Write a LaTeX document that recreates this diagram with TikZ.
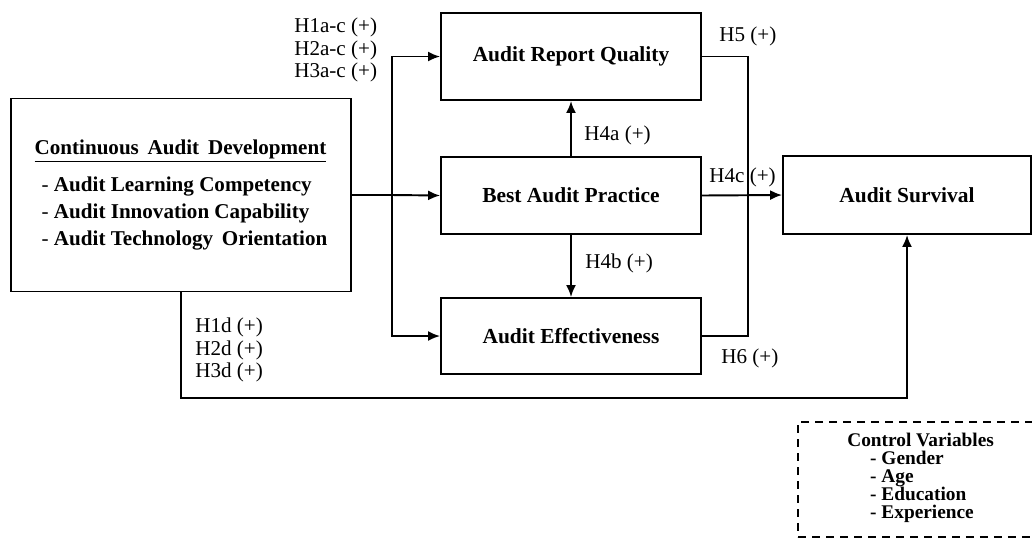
\documentclass[tikz,border=0pt]{standalone}
\usepackage{fontspec}
\setmainfont{Liberation Serif}
\usetikzlibrary{arrows.meta}

\tikzset{
  box/.style={draw, line width=1.1pt, rectangle, minimum width=5.2cm, font=\fontsize{12.2}{13}\selectfont\bfseries},
  arr/.style={-{Latex[length=2.4mm,width=2mm]}, line width=1.1pt},
  hyp/.style={anchor=west, align=left, font=\fontsize{12}{12.6}\selectfont, inner sep=0pt}
}

\begin{document}
\begin{tikzpicture}[x=0.02cm, y=-0.02cm]
        \useasboundingbox (0,0) rectangle (1032,539);

        % Nodes
        \node[box, minimum width=6.8cm, minimum height=3.86cm, font=\fontsize{12}{14}\selectfont, align=left] (CAD) at (181,195)
          {\textbf{\underline{Continuous\ \,Audit\ \,Development}}\\[7pt]
           \hspace*{4pt}- \textbf{Audit Learning Competency}\\[1.6pt]
           \hspace*{4pt}- \textbf{Audit Innovation Capability}\\[1.6pt]
           \hspace*{4pt}- \textbf{Audit Technology\ \,Orientation}};
        \node[box, minimum height=1.74cm] (ARQ) at (571,56.5) {Audit Report Quality};
        \node[box, minimum height=1.54cm] (BAP) at (571,195.5) {Best Audit Practice};
        \node[box, minimum height=1.52cm] (AE) at (571,336) {Audit Effectiveness};
        \node[box, minimum width=4.96cm, minimum height=1.56cm] (AS) at (907,195) {Audit Survival};
        \node[draw, line width=1.1pt, dash pattern=on 0.16cm off 0.12cm, minimum width=5.4cm, minimum height=2.3cm] (CVbox) at (933,479.5) {};
        \node[anchor=north west, align=left, inner sep=0pt, font=\fontsize{11}{10.2}\selectfont\bfseries] (CV) at (847,433)
          {Control Variables\\
           \hspace*{13pt}- Gender\\
           \hspace*{13pt}- Age\\
           \hspace*{13pt}- Education\\
           \hspace*{13pt}- Experience};

        \coordinate (split) at (392,195);
        \coordinate (rj) at (748,195);
        \coordinate (bot) at (500,398);

        % Edges
        \draw[line width=1.1pt] (CAD.east) -- (split);
        \draw[arr] (split) -- (BAP.west);
        \draw[arr] (split) |- (ARQ.west);
        \draw[arr] (split) |- (AE.west);
        \draw[arr] (BAP.north) -- (ARQ.south);
        \draw[arr] (BAP.south) -- (AE.north);
        \draw[line width=1.1pt] (ARQ.east) -| (rj) |- (AE.east);
        \draw[arr] (BAP.east) -- (AS.west);
        \draw[arr] (CAD.south) |- (bot) -| (AS.south);

        % Labels
        \node[hyp] (H1ac) at (294,50) {H1a-c (+)\\H2a-c (+)\\H3a-c (+)};
        \node[hyp] (H5) at (719,36) {H5 (+)};
        \node[hyp] (H4a) at (584,135) {H4a (+)};
        \node[hyp] (H4c) at (709,177) {H4c (+)};
        \node[hyp] (H4b) at (585,263) {H4b (+)};
        \node[hyp] (H6) at (721,358) {H6 (+)};
        \node[hyp] (H1d) at (195,350) {H1d (+)\\H2d (+)\\H3d (+)};
    \end{tikzpicture}
\end{document}
